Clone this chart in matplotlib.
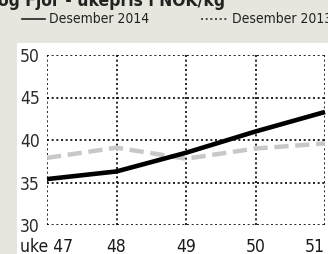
import matplotlib
matplotlib.use("Agg")
import matplotlib.pyplot as plt
from matplotlib.patches import Rectangle
from matplotlib.lines import Line2D

weeks = [47, 48, 49, 50, 51]
week_labels = ["uke 47", "48", "49", "50", "51"]
price_2014 = [35.4, 36.3, 38.5, 41.0, 43.3]
price_2013 = [37.9, 39.1, 37.8, 39.0, 39.6]
yticks = [30, 35, 40, 45, 50]
title = "og Fjor - ukepris i NOK/kg"
legend_2014 = "Desember 2014"
legend_2013 = "Desember 2013"

W, H = 328, 254
FONT = ["DejaVu Sans"]
STRETCH = "condensed"
bg = "#e6e6df"

fig = plt.figure(figsize=(W / 100, H / 100), dpi=100, facecolor=bg)
fig.patches.append(Rectangle((17 / W, 0), 1 - 17 / W, (H - 43) / H,
                             transform=fig.transFigure, facecolor="white",
                             edgecolor="none", zorder=-5))

ax = fig.add_axes([47 / W, 29 / H, 278 / W, 170 / H])
ax.set_facecolor("none")
ax.set_xlim(47, 51)
ax.set_ylim(30, 50)
for s in ax.spines.values():
    s.set_visible(False)

ax.set_xticks(weeks)
ax.set_xticklabels(week_labels, fontsize=12.5, family=FONT, stretch=STRETCH,
                   color="#1a1a1a")
ax.set_yticks(yticks)
ax.set_yticklabels([str(v) for v in yticks], fontsize=12.5, family=FONT,
                   stretch=STRETCH, color="#2a2a2a")
ax.tick_params(axis="both", length=0)
ax.tick_params(axis="x", pad=9)
ax.tick_params(axis="y", pad=19.5)
for lab in ax.get_yticklabels():
    lab.set_horizontalalignment("left")
xl = ax.get_xticklabels()
xl[-1].set_horizontalalignment("right")
xl[-1].set_x(51.02)

ax.grid(True, color="black", linestyle=(0, (1.2, 1.6)), linewidth=1.2)
ax.set_axisbelow(True)

ax.plot(weeks, price_2013, color="#c8c8c8", linewidth=3.2,
        linestyle=(0, (3.2, 1.5)), solid_capstyle="butt", clip_on=False,
        zorder=3)
ax.plot(weeks, price_2014, color="black", linewidth=3.3, clip_on=False,
        solid_capstyle="butt", zorder=4)

# title (partly cut off at the top)
fig.text(-2 / W, 1 - 6 / H, title, fontsize=12.5, fontweight="bold",
         family=FONT, stretch=STRETCH, color="#222222", va="baseline",
         ha="left")

# legend
ly = 1 - 19 / H
fig.lines.append(Line2D([22 / W, 45 / W], [ly, ly], transform=fig.transFigure,
                        color="#222222", linewidth=1.2))
fig.text(49 / W, ly, legend_2014, fontsize=10, family=FONT, stretch=STRETCH,
         color="#222222", va="center", ha="left")
fig.lines.append(Line2D([201 / W, 228 / W], [ly, ly], transform=fig.transFigure,
                        color="#333333", linewidth=1.2,
                        linestyle=(0, (1.2, 1.6))))
fig.text(232 / W, ly, legend_2013, fontsize=10, family=FONT, stretch=STRETCH,
         color="#222222", va="center", ha="left")

fig.savefig("out.png", dpi=100, facecolor=bg)
